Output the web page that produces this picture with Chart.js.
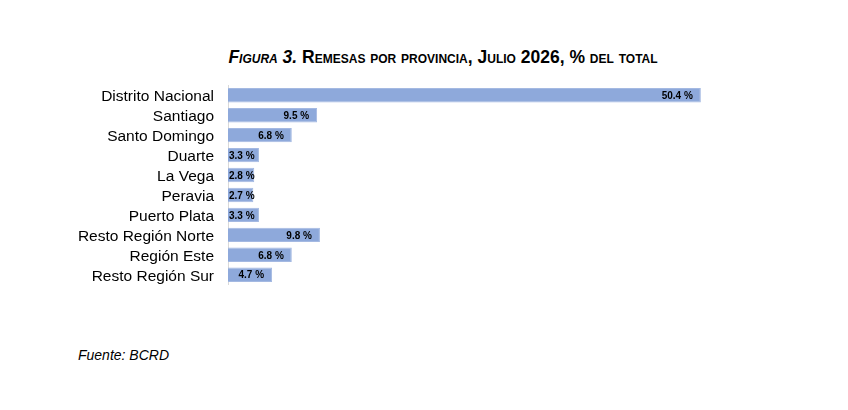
<!DOCTYPE html>
<html><head><meta charset="utf-8">
<script src="https://cdn.jsdelivr.net/npm/chart.js@4"></script>
<style>
html,body{margin:0;padding:0;background:#fff;width:848px;height:410px;overflow:hidden;font-family:"Liberation Sans",Arial,sans-serif;}
#title{position:absolute;left:0;width:886px;top:47px;text-align:center;font-weight:bold;font-size:17.5px;font-variant:small-caps;color:#000;}
#foot{position:absolute;left:78px;top:347px;font-style:italic;font-size:14px;color:#000;}
#c{position:absolute;left:0;top:62px;}
</style></head><body>
<div id="title"><i>Figura 3.</i> Remesas por provincia, Julio 2026, % del total</div>
<canvas id="c" width="848" height="246" style="width:848px;height:246px"></canvas>
<div id="foot">Fuente: BCRD</div>
<script>
const categories = ["Distrito Nacional","Santiago","Santo Domingo","Duarte","La Vega","Peravia","Puerto Plata","Resto Región Norte","Región Este","Resto Región Sur"];
const shares = [50.4, 9.5, 6.8, 3.3, 2.8, 2.7, 3.3, 9.8, 6.8, 4.7];

const labelPlugin = {
  id:'barLabels',
  afterDatasetsDraw(chart){
    const ctx = chart.ctx;
    const meta = chart.getDatasetMeta(0);
    ctx.save();
    ctx.font = 'bold 10px "Liberation Sans", Arial, sans-serif';
    ctx.fillStyle = '#000';
    ctx.textBaseline = 'middle';
    ctx.textAlign = 'left';
    meta.data.forEach((bar,i)=>{
      const txt = shares[i].toFixed(1) + ' %';
      const w = ctx.measureText(txt).width;
      let x = bar.x - 8 - w;
      if (x < bar.base + 1) x = bar.base + 1;
      ctx.fillText(txt, x, bar.y + 1);
    });
    ctx.restore();
  }
};

new Chart(document.getElementById('c'), {
  type:'bar',
  data:{labels:categories, datasets:[{data:shares, backgroundColor:'#8EA9DB', borderColor:'#A4B9E2', borderWidth:1, barPercentage:0.72, categoryPercentage:1}]},
  options:{
    indexAxis:'y', responsive:false, animation:false,
    layout:{padding:{left:0,right:104,top:0,bottom:0}},
    plugins:{legend:{display:false}, tooltip:{enabled:false}},
    scales:{
      x:{display:false, min:0, max:55},
      y:{
        afterFit(s){ s.width = 228; },
        grid:{display:false, drawTicks:false},
        border:{display:true, color:'#D9D9D9', width:1},
        ticks:{color:'#000', padding:14, labelOffset:1.5, autoSkip:false, font:{family:'"Liberation Sans", Arial, sans-serif', size:15.5}}
      }
    }
  },
  plugins:[labelPlugin]
});
</script>
</body></html>
